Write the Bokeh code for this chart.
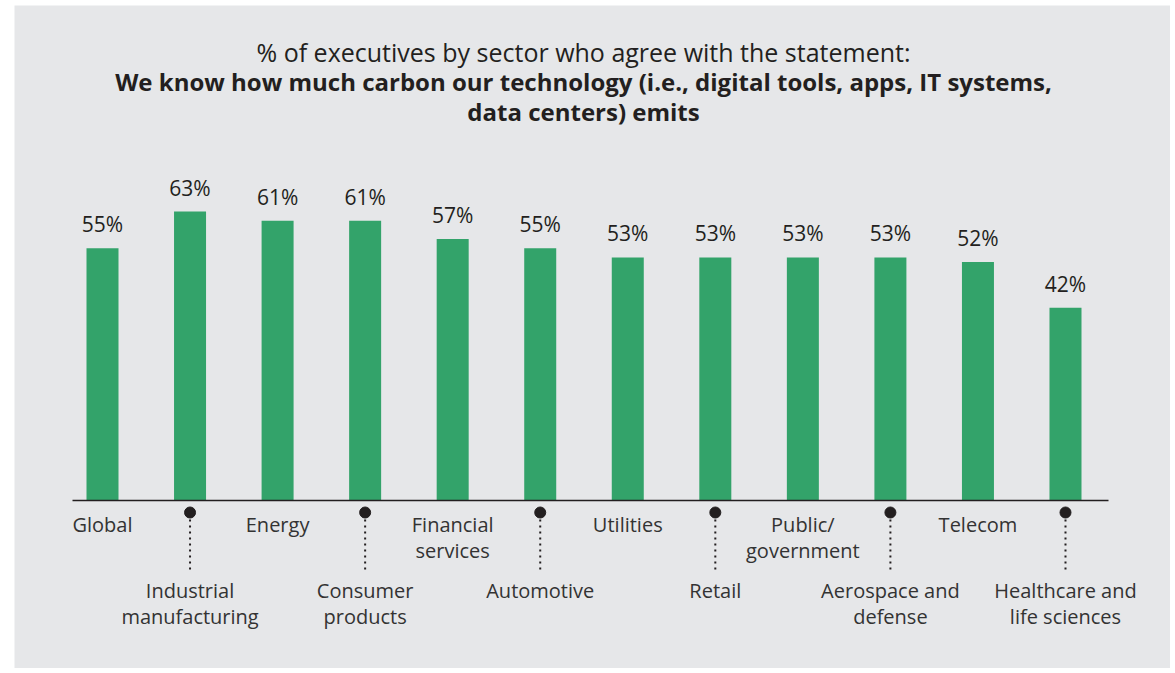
from bokeh.plotting import figure
from bokeh.models import Range1d, Label
from bokeh.core.properties import value
from bokeh.embed import file_html
from bokeh.resources import INLINE

categories = ["Global", "Industrial\nmanufacturing", "Energy", "Consumer\nproducts",
              "Financial\nservices", "Automotive", "Utilities", "Retail",
              "Public/\ngovernment", "Aerospace and\ndefense", "Telecom",
              "Healthcare and\nlife sciences"]
values = [55, 63, 61, 61, 57, 55, 53, 53, 53, 53, 52, 42]
value_labels = ["55%", "63%", "61%", "61%", "57%", "55%", "53%", "53%", "53%", "53%", "52%", "42%"]

title_line1 = "% of executives by sector who agree with the statement:"
title_line2 = "We know how much carbon our technology (i.e., digital tools, apps, IT systems,"
title_line3 = "data centers) emits"

FONT = "Open Sans"
BG = "#e6e7e9"
GREEN = "#33a36a"
DARK = "#231f20"
TXT = "#333333"

BL, BT = 14, 5
W, H = 1170, 668
frame_w = W - BL
frame_h = H - BT
px_per_x = 87.545
px_per_y = 4.587
zero_px = 500 - BT   # pixels from frame top to baseline
x0_px = 102 - BL     # pixels from frame left to first bar centre

x_start = -x0_px / px_per_x
x_end = x_start + frame_w / px_per_x
y_end = zero_px / px_per_y
y_start = y_end - frame_h / px_per_y

p = figure(width=W, height=H, output_backend="svg", toolbar_location=None,
           x_range=Range1d(x_start, x_end), y_range=Range1d(y_start, y_end),
           min_border_left=BL, min_border_right=0, min_border_top=BT, min_border_bottom=0,
           background_fill_color=BG, border_fill_color="white", outline_line_color=None)
p.axis.visible = False
p.grid.visible = False

xs = list(range(len(categories)))

def py(px_below):
    return -px_below / px_per_y

p.vbar(x=xs, top=values, width=32 / px_per_x, bottom=0, color=GREEN, line_color=None)

# value labels
p.text(x=xs, y=[v + 24 / px_per_y for v in values], text=value_labels,
       text_font=value(FONT), text_font_size="21px", text_color=DARK,
       text_align="center", text_baseline="middle")

# baseline
p.segment(x0=[-30 / px_per_x], y0=[0], x1=[1006 / px_per_x], y1=[0],
          line_color=DARK, line_width=1.5)

# category labels
up_x, up_y, up_t = [], [], []
lo_x, lo_y, lo_t = [], [], []
for i, c in enumerate(categories):
    lines = c.split("\n")
    for j, ln in enumerate(lines):
        if i % 2 == 0:
            up_x.append(i); up_y.append(py(24 + 26 * j)); up_t.append(ln)
        else:
            lo_x.append(i); lo_y.append(py(90 + 26 * j)); lo_t.append(ln)

for X, Y, T in ((up_x, up_y, up_t), (lo_x, lo_y, lo_t)):
    p.text(x=X, y=Y, text=T, text_font=value(FONT), text_font_size="20px",
           text_color=TXT, text_align="center", text_baseline="middle")

odd = [i for i in xs if i % 2 == 1]
p.segment(x0=odd, y0=[py(19)] * len(odd), x1=odd, y1=[py(73)] * len(odd),
          line_color=DARK, line_width=2, line_dash="2 4")
p.scatter(x=odd, y=[py(12)] * len(odd), size=11, color=DARK)

# title
cx = 583 - BL
for k, (t, style, fs) in enumerate(((title_line1, "normal", "25px"),
                                    (title_line2, "bold", "24px"),
                                    (title_line3, "bold", "24px"))):
    page_y = 51 + 30 * k
    p.add_layout(Label(x=cx, y=frame_h - (page_y - BT), x_units="screen", y_units="screen",
                       text=t, text_font=FONT, text_font_size=fs, text_font_style=style,
                       text_color=DARK, text_align="center", text_baseline="middle"))

open("out.html", "w").write(file_html(p, INLINE))
